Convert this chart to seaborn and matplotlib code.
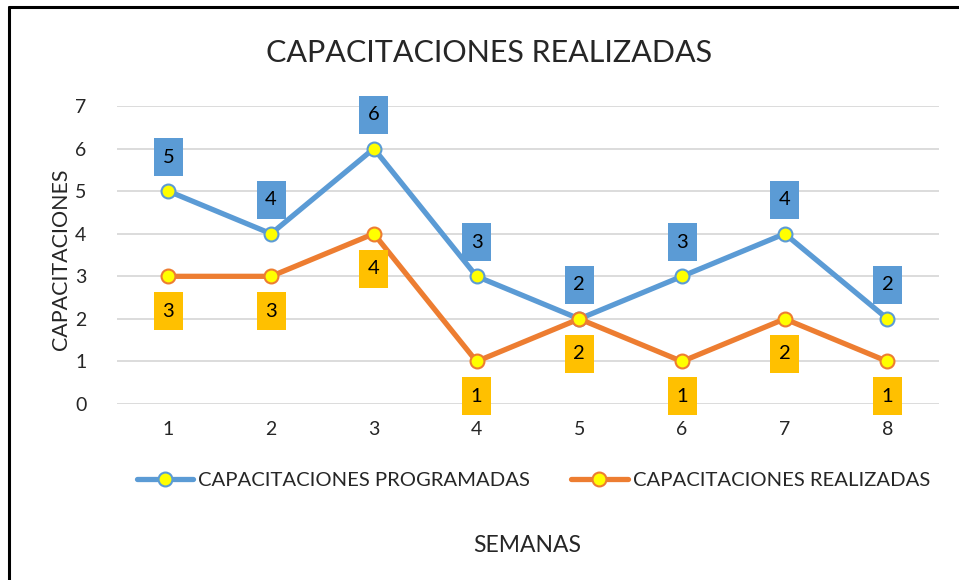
import matplotlib
matplotlib.use("Agg")
import matplotlib.pyplot as plt
import seaborn as sns
from matplotlib.lines import Line2D
from matplotlib.path import Path

# Data
semanas = [1, 2, 3, 4, 5, 6, 7, 8]
programadas = [5, 4, 6, 3, 2, 3, 4, 2]
realizadas = [3, 3, 4, 1, 2, 1, 2, 1]
yticks = [0, 1, 2, 3, 4, 5, 6, 7]

BLUE = "#5B9BD5"
ORANGE = "#ED7D31"
GOLD = "#FFC000"
YELLOW = "#FFFF00"

sns.set_theme(style="white")
plt.rcParams['font.family'] = ['Lato', 'DejaVu Sans']


def label_box(x0, y0, width, height, mutation_size):
    # fixed-size box (29x38 px) centred on the label text, like Excel
    cx, cy = x0 + width / 2, y0 + height / 2
    w, h = 29 / 2, 38 / 2
    return Path([(cx - w, cy - h), (cx + w, cy - h), (cx + w, cy + h),
                 (cx - w, cy + h), (cx - w, cy - h)], closed=True)


fig = plt.figure(figsize=(9.59, 5.80), dpi=100)
ax = fig.add_axes([0.122, 0.3034, 0.857, 0.5138])

for vals, col, name in [(programadas, BLUE, "CAPACITACIONES PROGRAMADAS"),
                        (realizadas, ORANGE, "CAPACITACIONES REALIZADAS")]:
    sns.lineplot(x=semanas, y=vals, ax=ax, color=col, linewidth=3.8,
                 marker='o', markersize=10, markerfacecolor=YELLOW,
                 markeredgecolor=col, markeredgewidth=1.5, label=name,
                 zorder=3)

# Data labels
for x, v in zip(semanas, programadas):
    ax.annotate(str(v), (x, v), xytext=(0, 34), textcoords='offset pixels',
                ha='center', va='center', fontsize=14.5, color='black',
                bbox=dict(boxstyle=label_box, fc=BLUE, ec='none'),
                zorder=5)
for x, v in zip(semanas, realizadas):
    ax.annotate(str(v), (x, v), xytext=(0, -35), textcoords='offset pixels',
                ha='center', va='center', fontsize=14.5, color='black',
                bbox=dict(boxstyle=label_box, fc=GOLD, ec='none'),
                zorder=5)

ax.set_xlim(0.5, 8.5)
ax.set_ylim(0, 7)
ax.set_xticks(semanas)
ax.set_yticks(yticks)
ax.tick_params(axis='both', length=0, labelsize=14, pad=12)
ax.tick_params(axis='y', pad=22)
ax.grid(axis='y', color='#D9D9D9', linewidth=1.3)
ax.grid(axis='x', visible=False)
ax.set_axisbelow(True)
for s in ax.spines.values():
    s.set_visible(False)

ax.set_xlabel("")
ax.set_ylabel("CAPACITACIONES", fontsize=15.4)
ax.yaxis.set_label_coords(-0.056, 0.487)

handles, labels = ax.get_legend_handles_labels()
ax.get_legend().remove()
fig.legend(handles, labels, loc='center', bbox_to_anchor=(0.556, 0.172),
           ncol=2, frameon=False, fontsize=14.6, handlelength=2.8,
           handletextpad=0.25, columnspacing=2.0)

fig.text(0.51, 1 - 53 / 580, "CAPACITACIONES REALIZADAS", ha='center',
         va='center', fontsize=22)
fig.text(0.55, 1 - 546 / 580, "SEMANAS", ha='center', va='center',
         fontsize=16.5)

# Partial frame (left and top)
fig.add_artist(Line2D([9 / 959, 9 / 959], [0, 1 - 7 / 580], color='black',
                      linewidth=2.2, transform=fig.transFigure))
fig.add_artist(Line2D([9 / 959, 1], [1 - 7 / 580, 1 - 7 / 580], color='black',
                      linewidth=2.2, transform=fig.transFigure))

fig.savefig("out.png", dpi=100)
